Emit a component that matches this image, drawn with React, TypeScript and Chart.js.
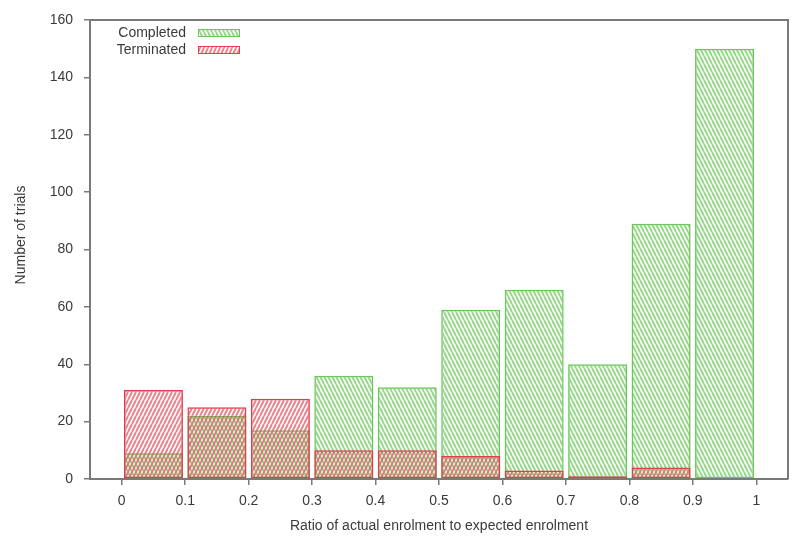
import React, { useEffect, useRef } from "react";
import { Chart, registerables } from "chart.js";

Chart.register(...registerables);

const binCenters = [0.05, 0.15, 0.25, 0.35, 0.45, 0.55, 0.65, 0.75, 0.85, 0.95];
const completed = [9, 22, 17, 36, 32, 59, 66, 40, 89, 150];
const terminated = [31, 25, 28, 10, 10, 8, 3, 1, 4, 0];
const xTickValues = [0, 0.1, 0.2, 0.3, 0.4, 0.5, 0.6, 0.7, 0.8, 0.9, 1];
const xTickLabels = ["0", "0.1", "0.2", "0.3", "0.4", "0.5", "0.6", "0.7", "0.8", "0.9", "1"];
const yTickValues = [0, 20, 40, 60, 80, 100, 120, 140, 160];
const seriesNames = ["Completed", "Terminated"];
const xTitle = "Ratio of actual enrolment to expected enrolment";
const yTitle = "Number of trials";

const FONT = "'Liberation Sans', Arial, sans-serif";
const TEXT = "#3a3a3a";
const AXIS = "#7a7a7a";
const GREEN = "#6cc75a";
const RED = "#e0404e";

function makePattern(color: string, dir: "/" | "\\") {
  const c = document.createElement("canvas");
  const w = 4, h = 8;
  c.width = w; c.height = h;
  const g = c.getContext("2d")!;
  g.strokeStyle = color;
  g.lineWidth = 2;
  for (const off of [-w, 0, w]) {
    g.beginPath();
    if (dir === "/") { g.moveTo(off, h); g.lineTo(off + w, 0); }
    else { g.moveTo(off, 0); g.lineTo(off + w, h); }
    g.stroke();
  }
  const ctx = document.createElement("canvas").getContext("2d")!;
  return ctx.createPattern(c, "repeat")!;
}

export default function App() {
  const ref = useRef<HTMLCanvasElement>(null);
  useEffect(() => {
    const greenPat = makePattern("rgba(110,200,92,0.72)", "\\");
    const redPat = makePattern("rgba(220,70,85,0.66)", "/");
    const extras = {
      id: "extras",
      afterDraw(chart: any) {
        const { ctx, chartArea: a } = chart;
        ctx.save();
        ctx.strokeStyle = AXIS;
        ctx.lineWidth = 2;
        ctx.beginPath();
        ctx.moveTo(a.left, a.top);
        ctx.lineTo(a.right, a.top);
        ctx.lineTo(a.right, a.bottom);
        ctx.stroke();
        ctx.fillStyle = TEXT;
        ctx.font = `14px ${FONT}`;
        ctx.textAlign = "center";
        ctx.textBaseline = "middle";
        ctx.fillText(xTitle, (a.left + a.right) / 2, 526);
        ctx.save();
        ctx.translate(21, 235);
        ctx.rotate(-Math.PI / 2);
        ctx.fillText(yTitle, 0, 0);
        ctx.restore();
        const items = [
          { name: seriesNames[0], pat: greenPat, col: GREEN, y: 33 },
          { name: seriesNames[1], pat: redPat, col: RED, y: 50 },
        ];
        for (const it of items) {
          ctx.textAlign = "right";
          ctx.fillStyle = TEXT;
          ctx.fillText(it.name, 186, it.y);
          ctx.fillStyle = it.pat;
          ctx.fillRect(198, it.y - 3.5, 41, 7);
          ctx.strokeStyle = it.col;
          ctx.lineWidth = 1;
          ctx.strokeRect(198.5, it.y - 3.5, 41, 7);
        }
        ctx.restore();
      },
    };
    const chart = new Chart(ref.current!, {
      type: "bar",
      data: {
        datasets: [
          {
            label: seriesNames[1],
            data: binCenters.map((x, i) => ({ x, y: terminated[i] })),
            backgroundColor: redPat as any,
            borderColor: RED,
            borderWidth: 1.5,
            borderSkipped: false,
          },
          {
            label: seriesNames[0],
            data: binCenters.map((x, i) => ({ x, y: completed[i] })),
            backgroundColor: greenPat as any,
            borderColor: GREEN,
            borderWidth: 1.5,
            borderSkipped: false,
          },
        ],
      },
      options: {
        animation: false,
        responsive: false,
        grouped: false,
        barPercentage: 0.93,
        categoryPercentage: 1,
        layout: { padding: { left: 0, top: 20, right: 12, bottom: 0 } },
        plugins: { legend: { display: false }, tooltip: { enabled: false } },
        scales: {
          x: {
            type: "linear",
            offset: false,
            min: -0.05,
            max: 1.05,
            afterBuildTicks: (s: any) => { s.ticks = xTickValues.map((v) => ({ value: v })); },
            afterFit: (s: any) => { s.height = 70; },
            ticks: {
              callback: (_v: any, i: number) => xTickLabels[i],
              font: { family: FONT, size: 14 },
              color: TEXT,
              padding: 8,
              maxRotation: 0,
              autoSkip: false,
            },
            grid: { offset: false, drawOnChartArea: false, tickLength: 6, color: AXIS, lineWidth: 1.5 },
            border: { color: AXIS, width: 2 },
          },
          y: {
            min: 0,
            max: 160,
            afterBuildTicks: (s: any) => { s.ticks = yTickValues.map((v) => ({ value: v })); },
            afterFit: (s: any) => { s.width = 90; },
            ticks: {
              font: { family: FONT, size: 14 },
              color: TEXT,
              padding: 11,
            },
            grid: { drawOnChartArea: false, tickLength: 6, color: AXIS, lineWidth: 1.5 },
            border: { color: AXIS, width: 2 },
          },
        },
      } as any,
      plugins: [extras],
    });
    return () => chart.destroy();
  }, []);
  return (
    <div style={{ position: "absolute", left: 0, top: 0, width: 800, height: 549, background: "#fff" }}>
      <canvas ref={ref} width={800} height={549} style={{ width: 800, height: 549 }} />
    </div>
  );
}
